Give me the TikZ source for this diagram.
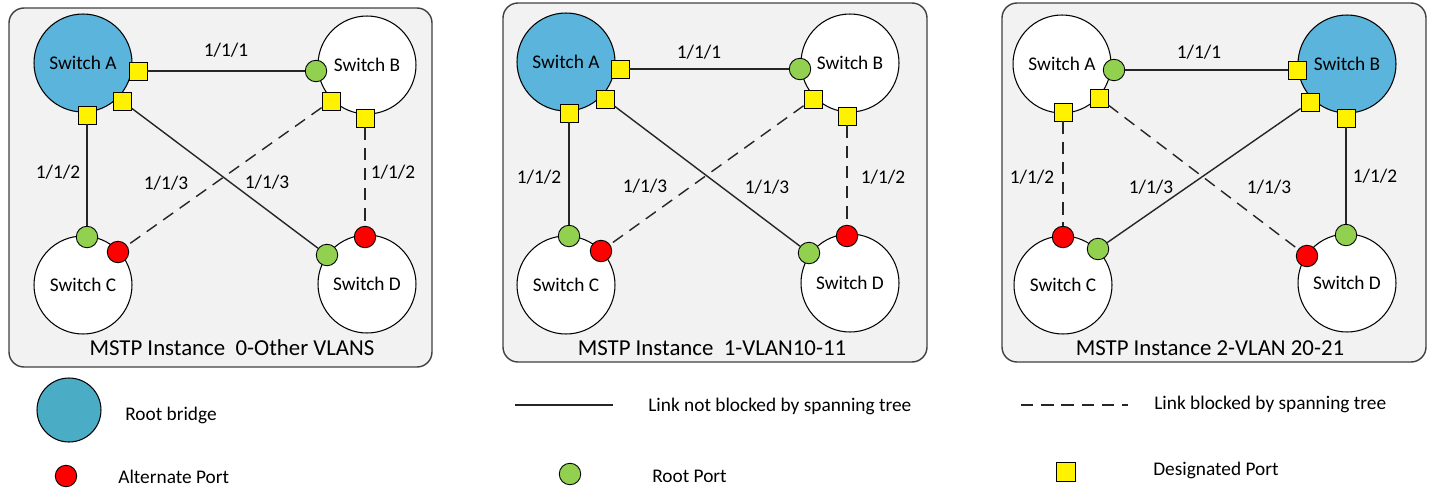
\documentclass[tikz,border=0pt]{standalone}
\usepackage{fontspec}
\setmainfont{Carlito}
\usepackage{tikz}
\usetikzlibrary{calc, positioning}
\definecolor{rootblue}{HTML}{5BB4DC}
\definecolor{legblue}{HTML}{4BACC6}
\definecolor{rpgreen}{HTML}{92D050}
\definecolor{panelgray}{HTML}{F2F2F2}
\definecolor{edgegray}{HTML}{404040}
\tikzstyle{switch}=[draw, shape=circle, minimum size=1.96cm, inner sep=0pt, fill=white, line width=0.6pt, font=\fontsize{11}{13}\selectfont]
\tikzstyle{rp}=[draw, shape=circle, fill=rpgreen, minimum size=0.43cm, inner sep=0pt, line width=0.5pt]
\tikzstyle{ap}=[draw, shape=circle, fill=red, minimum size=0.43cm, inner sep=0pt, line width=0.5pt]
\tikzstyle{dp}=[draw, shape=rectangle, fill=yellow, minimum size=0.36cm, inner sep=0pt, line width=0.5pt]
\tikzstyle{panel}=[draw=edgegray, fill=panelgray, rounded corners=0.3cm, line width=0.8pt]
\tikzstyle{lbl}=[inner sep=1pt, font=\fontsize{11}{13}\selectfont]
\tikzstyle{caption}=[inner sep=1pt, font=\fontsize{13}{15}\selectfont]
\tikzstyle{legtext}=[inner sep=0pt, anchor=west, font=\fontsize{11}{13}\selectfont]
\tikzstyle{link}=[line width=0.8pt, draw=black!85]
\tikzstyle{blocked}=[link, dash pattern=on 7pt off 4.5pt]

\begin{document}
\begin{tikzpicture}[x=0.02cm, y=-0.02cm]
\useasboundingbox (0,0) rectangle (1431,494);
% the three panels
\draw[panel] (9,8) rectangle (432,367);
\draw[panel] (503,3) rectangle (927,362);
\draw[panel] (1002,3) rectangle (1426,362);

% instance 0: the switches
\node[switch, fill=rootblue] (A1) at (83,63) {Switch A};
\node[switch] (B1) at (367,65) {Switch B};
\node[switch] (C1) at (83,285) {Switch C};
\node[switch] (D1) at (367,284) {Switch D};
% instance 0: the ports
\node[dp] (pA1b) at (138,71) {};
\node[dp] (pA1d) at (122,101) {};
\node[dp] (pA1c) at (87,115) {};
\node[rp] (pB1a) at (316,71) {};
\node[dp] (pB1c) at (331,101) {};
\node[dp] (pB1d) at (365,118) {};
\node[rp] (pC1a) at (87,237) {};
\node[ap] (pC1b) at (118,252) {};
\node[rp] (pD1a) at (327,255) {};
\node[ap] (pD1b) at (365,237) {};
% instance 0: the links
\draw[link] (pA1b) -- (pB1a);
\draw[link] (pA1c) -- (pC1a);
\draw[link] (pA1d) -- (pD1a);
\draw[blocked] (pB1c) -- (pC1b);
\draw[blocked] (pB1d) -- (pD1b);
\node[lbl] (l1ab) at (226,50) {1/1/1};
\node[lbl] (l1ac) at (58,172) {1/1/2};
\node[lbl] (l1bc) at (166,183) {1/1/3};
\node[lbl] (l1ad) at (267,182) {1/1/3};
\node[lbl] (l1bd) at (393,172) {1/1/2};
\node[caption] (cap1) at (232,348) {MSTP Instance~ 0-Other VLANS};

% instance 1: the switches
\node[switch, fill=rootblue] (A2) at (566,62) {Switch A};
\node[switch] (B2) at (850,63) {Switch B};
\node[switch] (C2) at (566,285) {Switch C};
\node[switch] (D2) at (850,283) {Switch D};
% instance 1: the ports
\node[dp] (pA2b) at (620,69) {};
\node[dp] (pA2d) at (605,99) {};
\node[dp] (pA2c) at (569,113) {};
\node[rp] (pB2a) at (800,69) {};
\node[dp] (pB2c) at (813,99) {};
\node[dp] (pB2d) at (847,116) {};
\node[rp] (pC2a) at (569,236) {};
\node[ap] (pC2b) at (601,251) {};
\node[rp] (pD2a) at (809,253) {};
\node[ap] (pD2b) at (847,236) {};
% instance 1: the links
\draw[link] (pA2b) -- (pB2a);
\draw[link] (pA2c) -- (pC2a);
\draw[link] (pA2d) -- (pD2a);
\draw[blocked] (pB2c) -- (pC2b);
\draw[blocked] (pB2d) -- (pD2b);
\node[lbl] (l2ab) at (699,52) {1/1/1};
\node[lbl] (l2ac) at (539,177) {1/1/2};
\node[lbl] (l2bc) at (645,186) {1/1/3};
\node[lbl] (l2ad) at (767,187) {1/1/3};
\node[lbl] (l2bd) at (883,177) {1/1/2};
\node[caption] (cap2) at (712,348) {MSTP Instance~ 1-VLAN10-11};

% instance 2: the switches
\node[switch] (A3) at (1062,64) {Switch A};
\node[switch, fill=rootblue] (B3) at (1347,64) {Switch B};
\node[switch] (C3) at (1063,285) {Switch C};
\node[switch] (D3) at (1347,283) {Switch D};
% instance 2: the ports
\node[rp] (pA3b) at (1114,70) {};
\node[dp] (pA3d) at (1099,98) {};
\node[dp] (pA3c) at (1063,112) {};
\node[dp] (pB3a) at (1297,70) {};
\node[dp] (pB3c) at (1310,102) {};
\node[dp] (pB3d) at (1346,118) {};
\node[ap] (pC3a) at (1063,237) {};
\node[rp] (pC3b) at (1098,249) {};
\node[ap] (pD3a) at (1307,256) {};
\node[rp] (pD3b) at (1346,235) {};
% instance 2: the links
\draw[link] (pA3b) -- (pB3a);
\draw[blocked] (pA3c) -- (pC3a);
\draw[blocked] (pA3d) -- (pD3a);
\draw[link] (pB3c) -- (pC3b);
\draw[link] (pB3d) -- (pD3b);
\node[lbl] (l3ab) at (1199,52) {1/1/1};
\node[lbl] (l3ac) at (1032,177) {1/1/2};
\node[lbl] (l3bc) at (1151,187) {1/1/3};
\node[lbl] (l3ad) at (1269,187) {1/1/3};
\node[lbl] (l3bd) at (1375,176) {1/1/2};
\node[caption] (cap3) at (1210,348) {MSTP Instance 2-VLAN 20-21};

% the legend
\node[draw, shape=circle, fill=legblue, minimum size=1.28cm, inner sep=0pt, line width=0.6pt] (kRoot) at (69,410) {};
\node[legtext] (tRoot) at (125,415) {Root bridge};
\node[ap] (kAlt) at (66,476) {};
\node[legtext] (tAlt) at (118,477) {Alternate Port};
\coordinate (kUp0) at (515,405);
\coordinate (kUp1) at (613,405);
\draw[link] (kUp0) -- (kUp1);
\node[legtext] (tUp) at (648,406) {Link not blocked by spanning tree};
\node[rp] (kRp) at (570,474) {};
\node[legtext] (tRp) at (652,476) {Root Port};
\coordinate (kBl0) at (1021,405);
\coordinate (kBl1) at (1128,405);
\draw[blocked] (kBl0) -- (kBl1);
\node[legtext] (tBl) at (1154,404) {Link blocked by spanning tree};
\node[dp, minimum size=0.38cm] (kDp) at (1066,472) {};
\node[legtext] (tDp) at (1153,470) {Designated Port};
\end{tikzpicture}
\end{document}
